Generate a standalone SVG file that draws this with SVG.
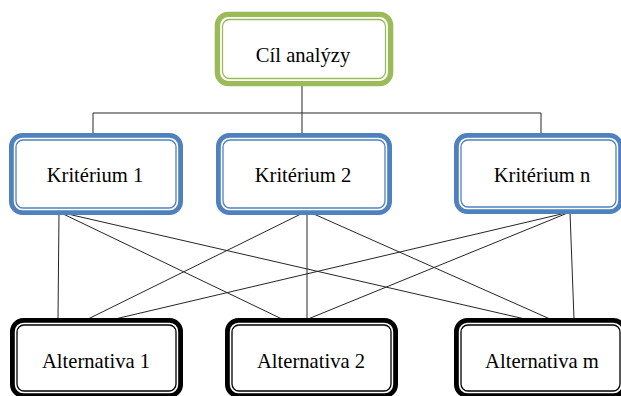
<svg xmlns="http://www.w3.org/2000/svg" width="621" height="396" viewBox="0 0 621 396">
<style>
.outer{fill:#ffffff;stroke-width:4.8}
.inner{fill:none;stroke-width:1.3}
.goal .outer,.goal .inner{stroke:#9BBB59}
.crit .outer,.crit .inner{stroke:#4F81BD}
.alt .outer,.alt .inner{stroke:#000000}
.lbl{font-family:"Liberation Serif","Times New Roman",serif;font-size:20.6px;fill:#000000;text-anchor:middle}
.conn line{stroke:#262626;stroke-width:1}
</style>
<rect width="621" height="396" fill="#ffffff"/>
<g id="connectors" class="conn">
<line x1="302" y1="86" x2="302" y2="113"/>
<line x1="93" y1="113" x2="541" y2="113"/>
<line x1="93" y1="113" x2="93" y2="134"/>
<line x1="302" y1="113" x2="302" y2="134"/>
<line x1="541" y1="113" x2="541" y2="134"/>
<line x1="59" y1="212" x2="58" y2="319"/>
<line x1="59" y1="212" x2="282" y2="319"/>
<line x1="59" y1="212" x2="525" y2="319"/>
<line x1="307" y1="211" x2="88" y2="319"/>
<line x1="307" y1="211" x2="307" y2="319"/>
<line x1="307" y1="211" x2="550" y2="319"/>
<line x1="570" y1="212" x2="115" y2="319"/>
<line x1="570" y1="212" x2="308" y2="319"/>
<line x1="570" y1="212" x2="574" y2="319"/>
</g>
<g id="goal" class="goal">
<rect class="outer" x="217.4" y="14.4" width="173.2" height="69.2" rx="11" style="stroke-width:5.4"/>
<rect class="inner" x="222.5" y="19.5" width="163" height="59" rx="7"/>
<text class="lbl" x="303" y="62">Cíl analýzy</text>
</g>
<g id="crit1" class="crit">
<rect class="outer" x="11.4" y="135.4" width="169.2" height="77.2" rx="11"/>
<rect class="inner" x="16" y="140" width="160" height="68" rx="7"/>
<text class="lbl" x="95" y="182">Kritérium 1</text>
</g>
<g id="crit2" class="crit">
<rect class="outer" x="218.4" y="135.4" width="171.2" height="77.2" rx="11"/>
<rect class="inner" x="223" y="140" width="162" height="68" rx="7"/>
<text class="lbl" x="303" y="182">Kritérium 2</text>
</g>
<g id="critn" class="crit">
<rect class="outer" x="456.4" y="135.4" width="164.2" height="76.2" rx="11"/>
<rect class="inner" x="461" y="140" width="155" height="67" rx="7"/>
<text class="lbl" x="542" y="182">Kritérium n</text>
</g>
<g id="alt1" class="alt">
<rect class="outer" x="12.4" y="320.4" width="168.2" height="75.2" rx="11"/>
<rect class="inner" x="17" y="325" width="159" height="66" rx="7"/>
<text class="lbl" x="96" y="368">Alternativa 1</text>
</g>
<g id="alt2" class="alt">
<rect class="outer" x="227.4" y="320.4" width="168.2" height="75.2" rx="11"/>
<rect class="inner" x="232" y="325" width="159" height="66" rx="7"/>
<text class="lbl" x="311" y="368">Alternativa 2</text>
</g>
<g id="altm" class="alt">
<rect class="outer" x="456.4" y="320.4" width="168.2" height="75.2" rx="11"/>
<rect class="inner" x="461" y="325" width="159" height="66" rx="7"/>
<text class="lbl" x="542" y="368">Alternativa m</text>
</g>
</svg>
